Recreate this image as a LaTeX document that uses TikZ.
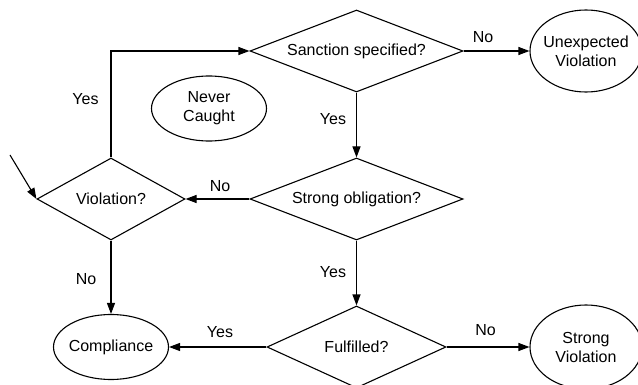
\documentclass[tikz,border=0pt]{standalone}
\usepackage{fontspec}
\setmainfont{Liberation Sans}
\usetikzlibrary{shapes.geometric,arrows.meta}
\begin{document}
\begin{tikzpicture}[x=1pt,y=-1pt, font=\fontsize{16}{19}\selectfont,
  dec/.style={diamond, draw, line width=1.1pt, inner sep=0pt, aspect=2.5},
  term/.style={ellipse, draw, line width=1.1pt, inner xsep=-4pt, inner ysep=0pt, align=center},
  conn/.style={line width=1.1pt, -{Triangle[length=11pt,width=8pt]}},
  lbl/.style={anchor=base, inner sep=0pt}]
\useasboundingbox (0,0) rectangle (638,385);
\node[dec, minimum width=213pt, minimum height=82pt] (sanc) at (356.5,51) {Sanction specified?};
\node[dec, minimum width=213pt, minimum height=82pt] (strong) at (356.5,199) {Strong obligation?};
\node[dec, minimum width=148pt, minimum height=82pt] (viol) at (111,199) {Violation?};
\node[dec, minimum width=179pt, minimum height=82pt] (ful) at (356.5,347) {Fulfilled?};
\node[term, minimum width=112pt, minimum height=82pt] (unexp) at (586,51) {Unexpected\\Violation};
\node[term, minimum width=112pt, minimum height=84pt] (sviol) at (586,347) {Strong\\Violation};
\node[term, minimum width=115pt, minimum height=65pt] (never) at (209,108.5) {Never\\Caught};
\node[term, minimum width=115pt, minimum height=65pt] (comp) at (111,347) {Compliance};
\coordinate (start) at (10,155);
\draw[conn] (start) -- (viol.west);
\draw[conn] (viol.north) |- (sanc.west);
\draw[conn] (sanc.east) -- (unexp.west);
\draw[conn] (sanc.south) -- (strong.north);
\draw[conn] (strong.west) -- (viol.east);
\draw[conn] (viol.south) -- (comp.north);
\draw[conn] (strong.south) -- (ful.north);
\draw[conn] (ful.west) -- (comp.east);
\draw[conn] (ful.east) -- (sviol.west);
\node[lbl] (l1) at (85.5,105) {Yes};
\node[lbl] (l2) at (483,43) {No};
\node[lbl] (l3) at (333,125) {Yes};
\node[lbl] (l4) at (220,192) {No};
\node[lbl] (l5) at (86,284) {No};
\node[lbl] (l6) at (333,277) {Yes};
\node[lbl] (l7) at (220,337) {Yes};
\node[lbl] (l8) at (485.5,335) {No};
\end{tikzpicture}
\end{document}
